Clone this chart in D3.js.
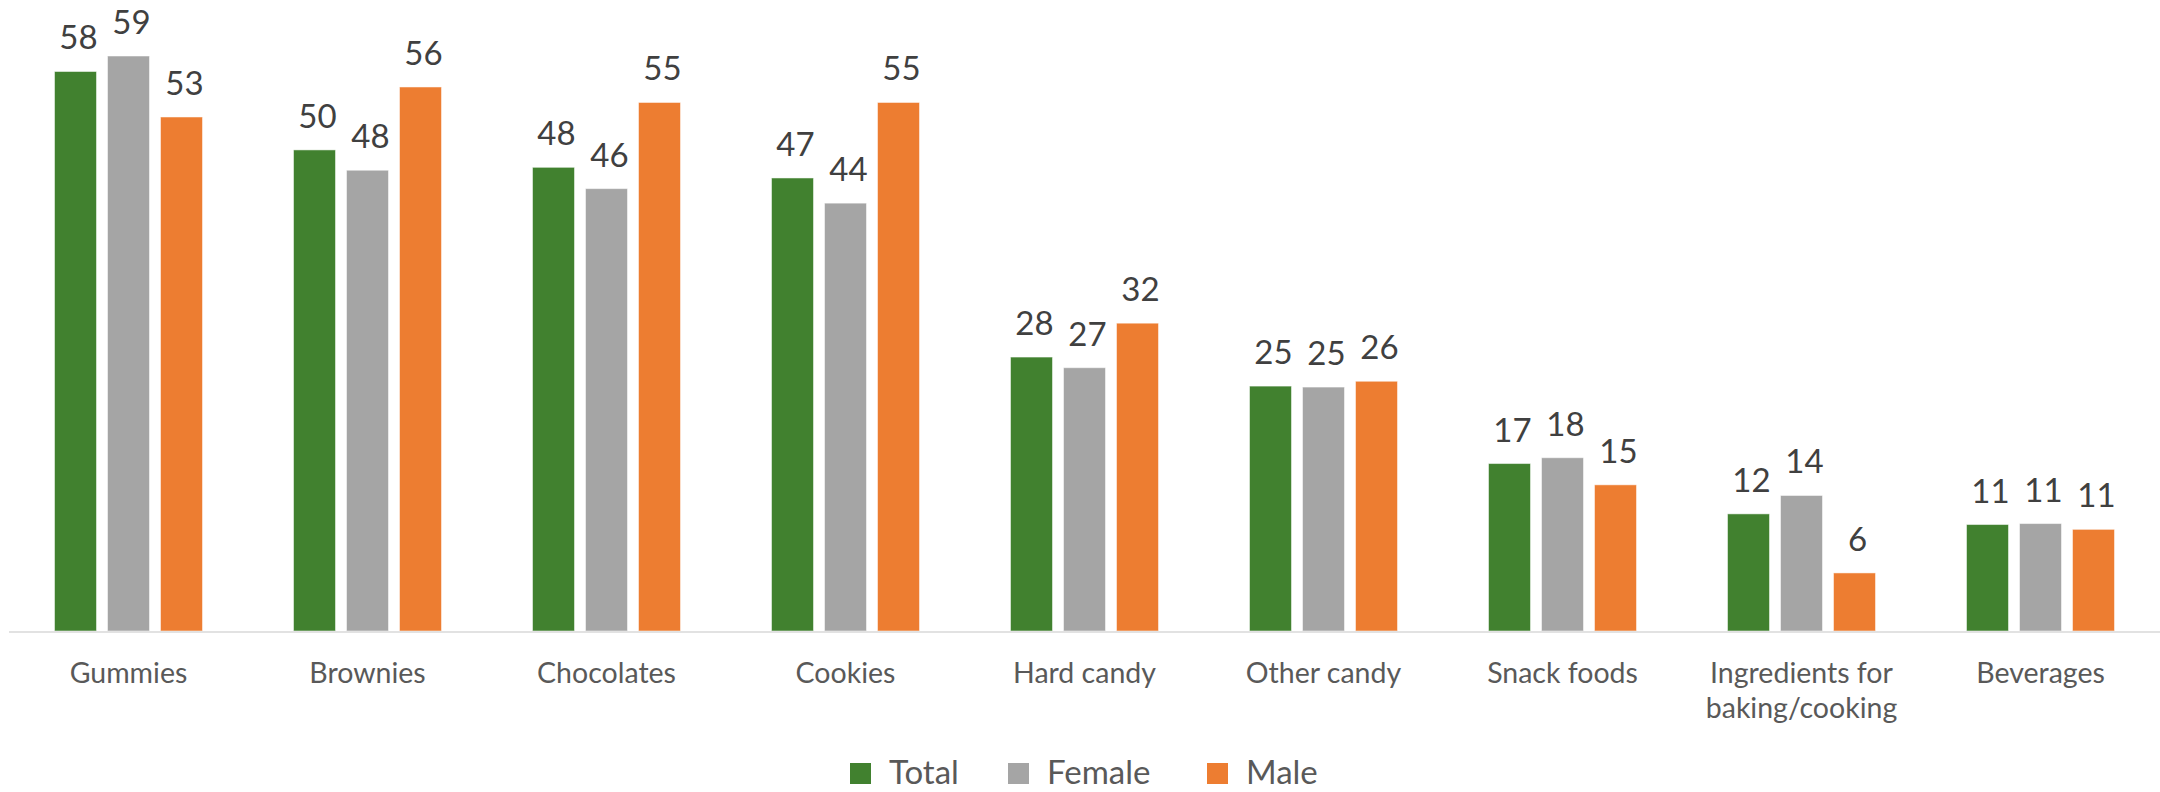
<!DOCTYPE html>
<html>
<head>
<meta charset="utf-8">
<script src="https://cdn.jsdelivr.net/npm/d3@7"></script>
<style>
  html, body { margin: 0; padding: 0; background: #ffffff; }
  svg { display: block; }
</style>
</head>
<body>
<svg id="chart" width="2160" height="792"></svg>
<script>
// Share of respondents by product type, split by gender (percent)
const categories = [
  ["Gummies"], ["Brownies"], ["Chocolates"], ["Cookies"], ["Hard candy"],
  ["Other candy"], ["Snack foods"], ["Ingredients for", "baking/cooking"], ["Beverages"]
];
const seriesNames = ["Total", "Female", "Male"];
const totalValues  = [57.8, 49.7, 47.9, 46.8, 28.3, 25.3, 17.3, 12.1, 11.0];
const femaleValues = [59.4, 47.6, 45.7, 44.2, 27.2, 25.2, 17.9, 14.0, 11.1];
const maleValues   = [53.1, 56.2, 54.6, 54.6, 31.8, 25.8, 15.1, 6.0, 10.5];
const seriesColors = ["#41812F", "#A5A5A5", "#ED7D31"];

const seriesValues = [totalValues, femaleValues, maleValues];
const catKeys = categories.map(c => c.join(" "));

const svg = d3.select("#chart");
const font = "Lato, 'Open Sans', sans-serif";

const baseY = 631;
const x0 = d3.scaleBand().domain(catKeys).range([9, 2160]).paddingInner(0).paddingOuter(0);
const x1 = d3.scaleBand().domain(seriesNames).range([45.5, 193.5]).paddingInner(11 / 53);
const y = d3.scaleLinear().domain([0, 60]).range([baseY, baseY - 60 * 9.68]);

// Bars
const groups = svg.append("g").selectAll("g")
  .data(catKeys)
  .join("g")
  .attr("transform", d => `translate(${x0(d)},0)`);

groups.selectAll("rect")
  .data((d, i) => seriesNames.map((s, j) => ({ s, j, v: seriesValues[j][i] })))
  .join("rect")
  .attr("x", d => x1(d.s))
  .attr("y", d => y(d.v))
  .attr("width", x1.bandwidth())
  .attr("height", d => y(0) - y(d.v))
  .attr("fill", d => seriesColors[d.j])
  .attr("stroke", "#ffffff")
  .attr("stroke-opacity", 0.5)
  .attr("stroke-width", 1);

// Value labels
groups.selectAll("text.val")
  .data((d, i) => seriesNames.map((s, j) => ({ s, j, v: seriesValues[j][i] })))
  .join("text")
  .attr("class", "val")
  .attr("x", d => x1(d.s) + x1.bandwidth() / 2 + 3)
  .attr("y", d => y(d.v) - 22)
  .attr("text-anchor", "middle")
  .attr("font-family", font)
  .attr("font-size", 33)
  .attr("fill", "#404040")
  .text(d => d3.format(".0f")(d.v));

// Category axis line
svg.append("line")
  .attr("x1", 9).attr("x2", 2160)
  .attr("y1", baseY + 1).attr("y2", baseY + 1)
  .attr("stroke", "#D9D9D9")
  .attr("stroke-width", 1.5);

// Category labels
const catLabels = svg.append("g").selectAll("text")
  .data(categories)
  .join("text")
  .attr("x", (d, i) => x0(catKeys[i]) + x0.bandwidth() / 2)
  .attr("y", 683)
  .attr("text-anchor", "middle")
  .attr("font-family", font)
  .attr("font-size", 28.5)
  .attr("fill", "#595959");

catLabels.selectAll("tspan")
  .data(d => d)
  .join("tspan")
  .attr("x", function () { return d3.select(this.parentNode).attr("x"); })
  .attr("dy", (d, i) => i === 0 ? 0 : 35)
  .text(d => d);

// Legend
const legendX = [850, 1008, 1207];
const legend = svg.append("g").selectAll("g")
  .data(seriesNames)
  .join("g")
  .attr("transform", (d, i) => `translate(${legendX[i]},0)`);

legend.append("rect")
  .attr("x", 0).attr("y", 763)
  .attr("width", 21).attr("height", 21)
  .attr("fill", (d, i) => seriesColors[i]);

legend.append("text")
  .attr("x", 39).attr("y", 784)
  .attr("font-family", font)
  .attr("font-size", 33)
  .attr("fill", "#595959")
  .text(d => d);
</script>
</body>
</html>
